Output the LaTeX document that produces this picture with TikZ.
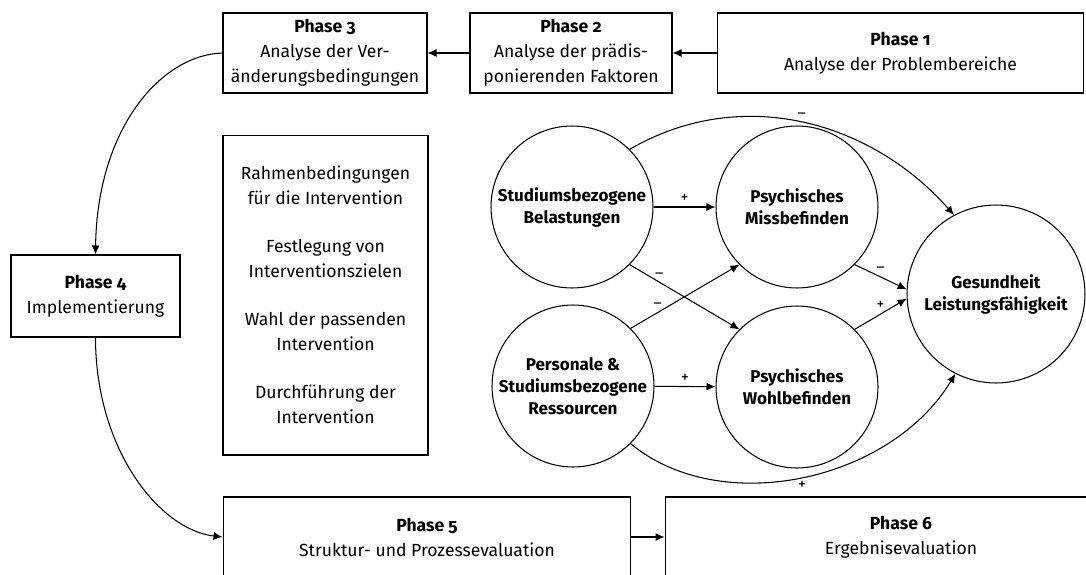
\documentclass[tikz,border=0pt]{standalone}
\usepackage{fontspec}
\setmainfont{Fira Sans}[Numbers=OldStyle]
\usetikzlibrary{arrows.meta}

\begin{document}
\begin{tikzpicture}[x=0.02cm,y=-0.02cm,line width=0.6pt,
  phasebox/.style={draw,align=center,inner sep=0pt,font=\fontsize{10}{14.2}\selectfont},
  factor/.style={draw,circle,align=center,inner sep=0pt,minimum size=3.24cm,font=\bfseries\fontsize{9.7}{12.5}\selectfont},
  flow/.style={-{Latex[length=1.8mm,width=1.6mm]}},
  sign/.style={font=\fontsize{9}{10}\selectfont,inner sep=2pt}]
\useasboundingbox (0,0) rectangle (1086,575);
\clip (0,0) rectangle (1086,575);

% phases
\node[phasebox,minimum width=4.08cm,minimum height=1.6cm] (p3) at (325,53) {\textbf{Phase 3}\\Analyse der Ver-\\änderungsbedingungen};
\node[phasebox,minimum width=4.04cm,minimum height=1.6cm] (p2) at (571,53) {\textbf{Phase 2}\\Analyse der prädis-\\ponierenden Faktoren};
\node[phasebox,minimum width=7.34cm,minimum height=1.6cm] (p1) at (900.5,53) {\textbf{Phase 1}\\Analyse der Problembereiche};
\node[phasebox,minimum width=3.38cm,minimum height=1.64cm] (p4) at (95.5,296) {\textbf{Phase 4}\\Implementierung};
\node[phasebox,minimum width=8.16cm,minimum height=1.6cm] (p5) at (427,537) {\textbf{Phase 5}\\Struktur- und Prozessevaluation};
\node[phasebox,minimum width=9.44cm,minimum height=1.6cm] (p6) at (901,537) {\textbf{Phase 6}\\Ergebnisevaluation};

% steps of phase 4
\node[phasebox,minimum width=4.1cm,minimum height=6.4cm] (steps) at (325.5,295)
  {Rahmenbedingungen\\für die Intervention\\[0.46cm]
   Festlegung von\\Interventionszielen\\[0.46cm]
   Wahl der passenden\\Intervention\\[0.46cm]
   Durchführung der\\Intervention};

% model
\node[factor] (bel) at (572,207) {Studiumsbezogene\\Belastungen};
\node[factor] (res) at (573,386) {Personale \&\\Studiumsbezogene\\Ressourcen};
\node[factor] (miss) at (797,207) {Psychisches\\Missbefinden};
\node[factor] (wohl) at (797,387) {Psychisches\\Wohlbefinden};
\node[factor,minimum size=3.56cm] (ges) at (996,294) {Gesundheit\\Leistungsfähigkeit};

\draw[flow] (p1.west) -- (p2.east);
\draw[flow] (p2.west) -- (p3.east);
\draw[flow] (p3.west) .. controls (160,55) and (97,130) .. (p4.north);
\draw[flow] (p4.south) .. controls (95.5,450) and (160,530) .. (p5.west);
\draw[flow] (p5.east) -- (p6.west);

\draw[flow] (bel) -- node[sign,above] {+} (miss);
\draw[flow] (res) -- node[sign,above] {+} (wohl);
\draw[flow] (bel.-45) -- node[sign,above,pos=0.27] {\textendash} (wohl.135);
\draw[flow] (res.45) -- node[sign,above,pos=0.25] {\textendash} (miss.-135);
\draw[flow] (miss.-45) -- node[sign,above,pos=0.5] {\textendash} (ges.177);
\draw[flow] (wohl.45) -- node[sign,above,pos=0.5] {+} (ges.183);
\draw[flow] (bel.45) .. controls (740,85) and (870,120) .. node[sign,above] {\textendash} (ges.118);
\draw[flow] (res.-45) .. controls (720,518) and (890,482) .. node[sign,below] {+} (ges.-117);
\end{tikzpicture}
\end{document}
